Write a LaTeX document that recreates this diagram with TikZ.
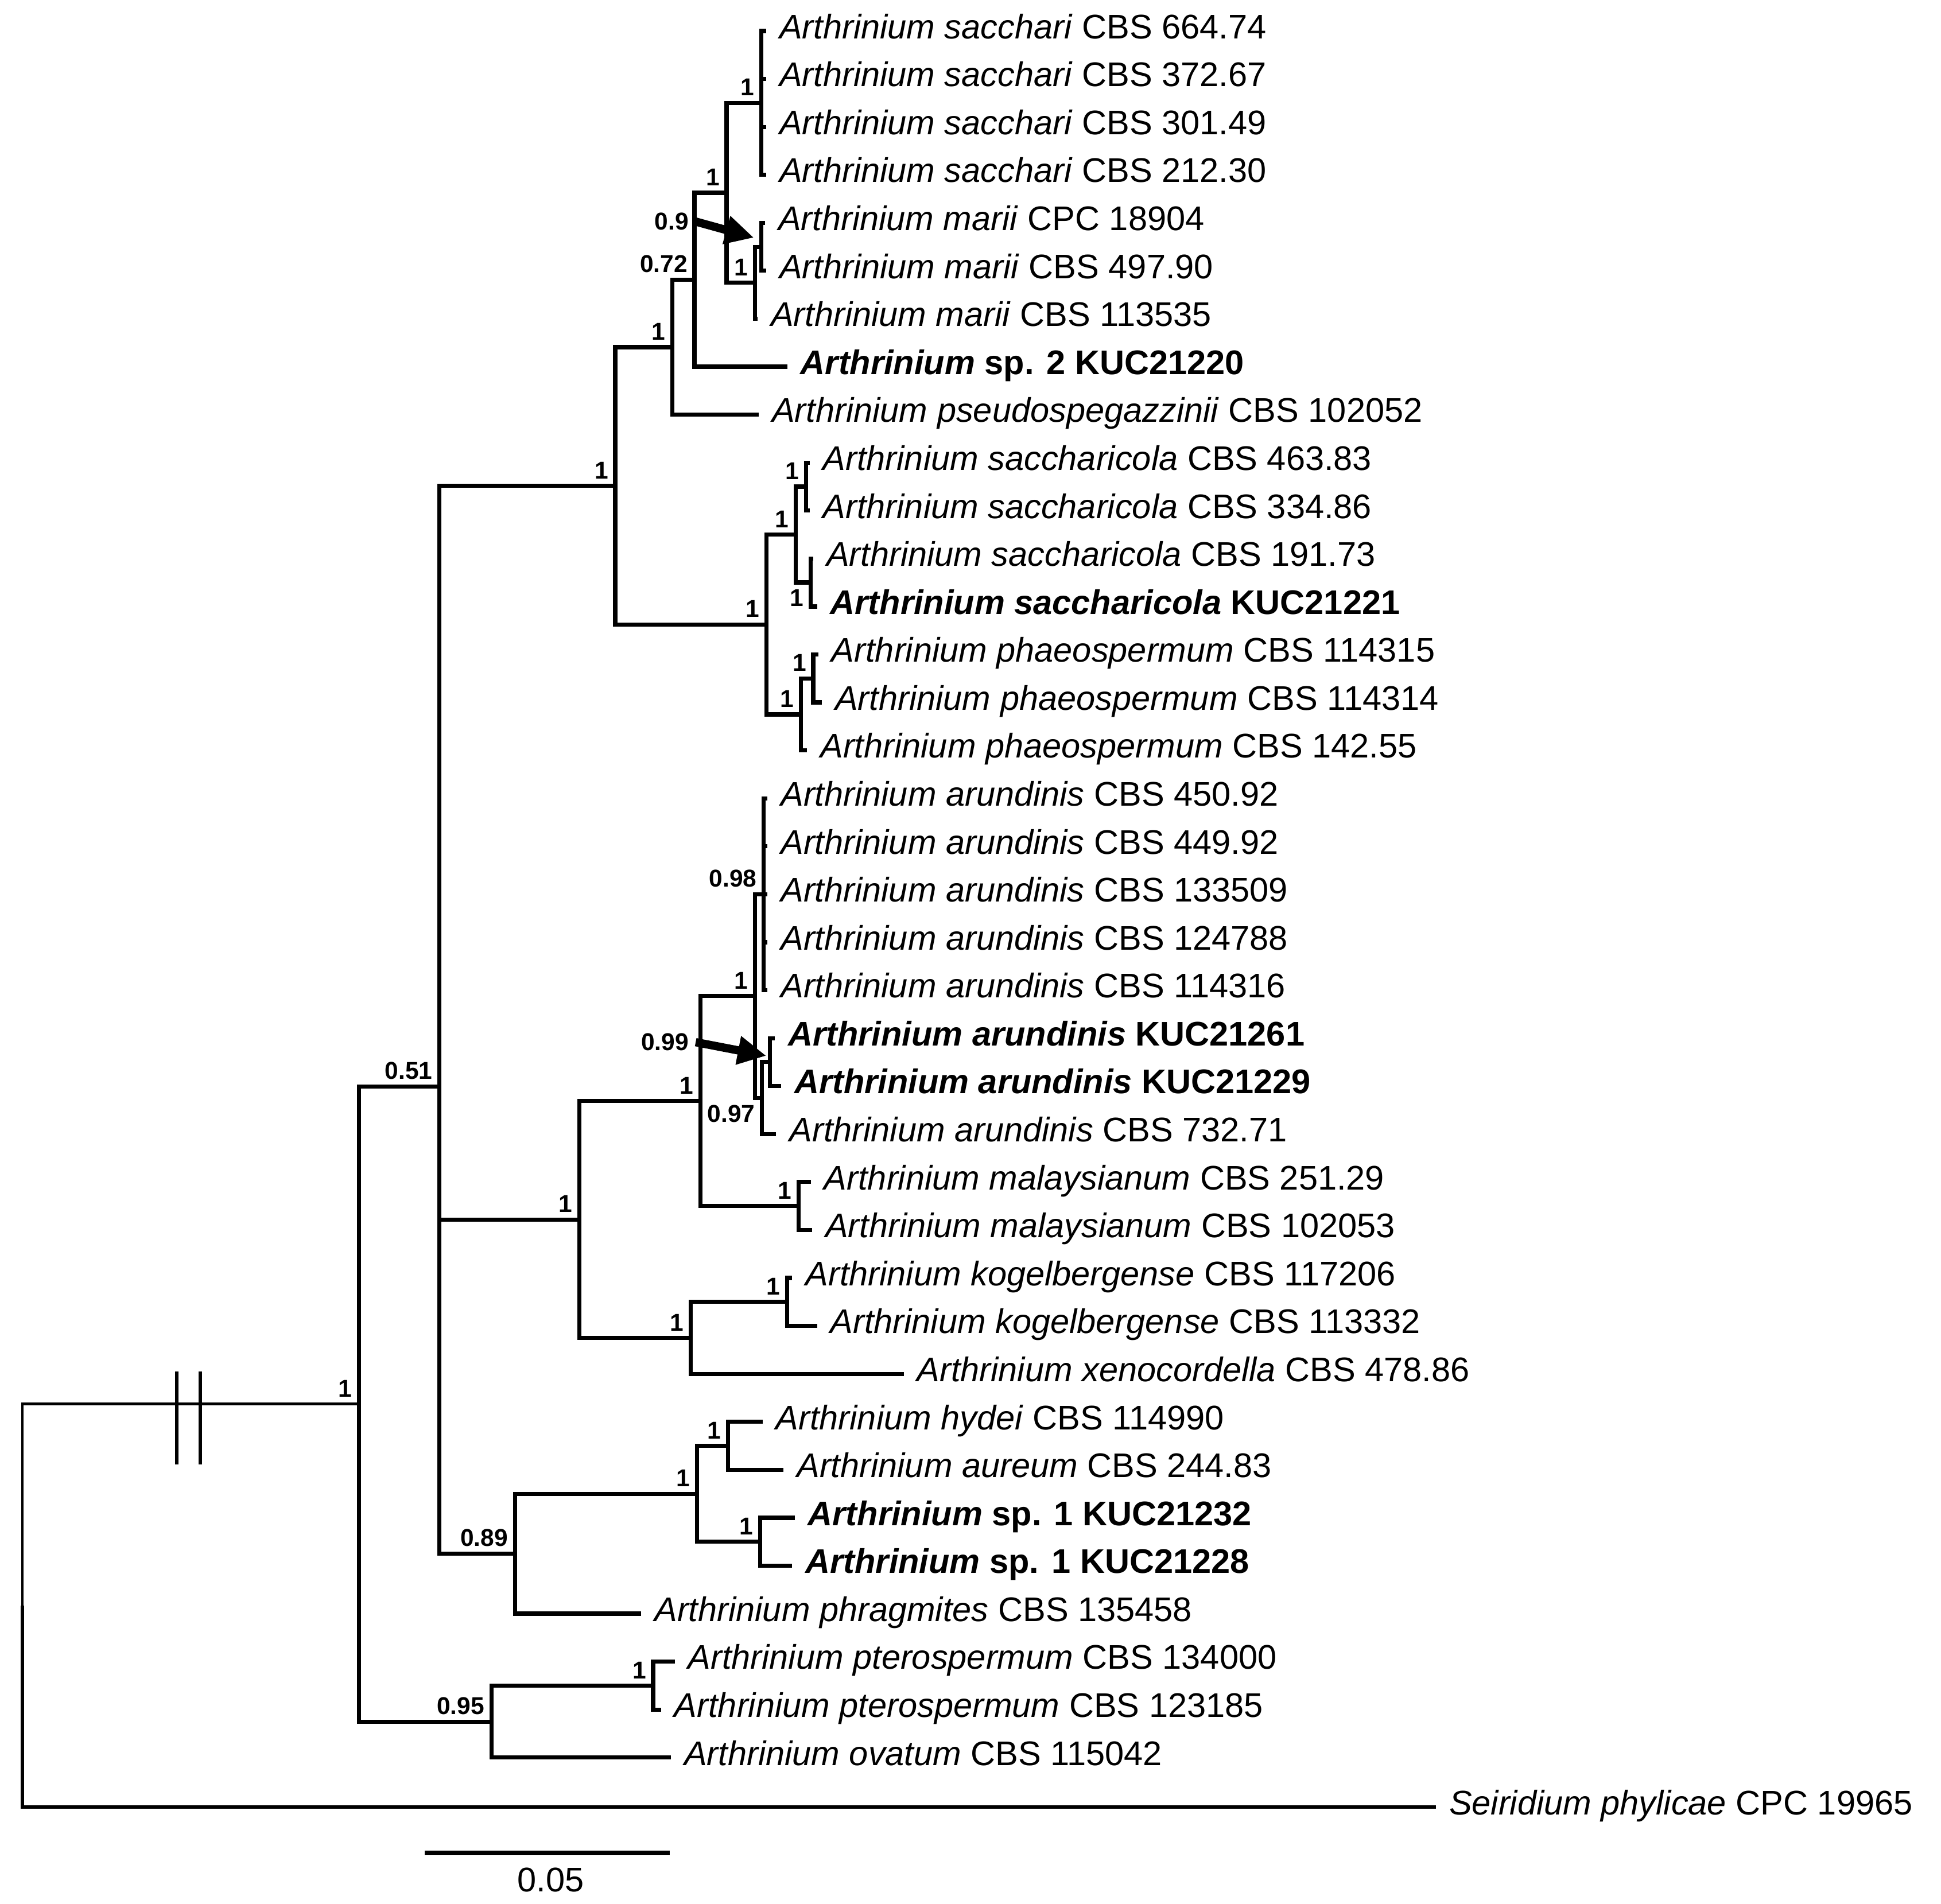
\documentclass[tikz,border=0pt]{standalone}
\usepackage{fontspec}
\setmainfont{Liberation Sans}
\usetikzlibrary{arrows.meta}
\newcommand{\arth}[1]{\textit{Arthrinium #1}}
\newcommand{\arthb}[1]{\textbf{\textit{Arthrinium #1}}}

\begin{document}
\begin{tikzpicture}[x=0.01cm, y=-0.01cm,
  br/.style={line width=0.95pt},
  leaf/.style={anchor=west, inner xsep=0.1cm, inner ysep=0pt, text height=5.5pt, text depth=2pt, font=\fontsize{7.85}{9}\selectfont},
  supp/.style={anchor=south east, inner sep=0.05cm, font=\fontsize{5.6}{6}\selectfont\bfseries},
  pointer/.style={line width=1.9pt, -{Triangle[length=2.3mm,width=2.2mm]}}]
\useasboundingbox (0,0) rectangle (1568,1538);

% internal nodes
\coordinate (root) at (18,1297);
\coordinate (ingr) at (290,1134.3);
\coordinate (core) at (355,877.7);
\coordinate (pter) at (397,1391);
\coordinate (top) at (497,392.5);
\coordinate (sacc) at (543,280.5);
\coordinate (mar) at (561,226);
\coordinate (marsac) at (587,155.8);
\coordinate (sacch) at (615,83.1);
\coordinate (marii) at (610,228.4);
\coordinate (marii2) at (615,199.4);
\coordinate (sphae) at (619,504.5);
\coordinate (scola) at (643,431.9);
\coordinate (scola1) at (651,393.1);
\coordinate (scola2) at (655,470.6);
\coordinate (phae) at (647,577.2);
\coordinate (phae1) at (657,548.1);
\coordinate (mid) at (468,985.3);
\coordinate (arma) at (566,889.6);
\coordinate (arun) at (610,804.8);
\coordinate (arun1) at (617,722.5);
\coordinate (arun2) at (615.5,887.2);
\coordinate (kuc) at (622,858.1);
\coordinate (malay) at (645,974.4);
\coordinate (kogx) at (558,1081);
\coordinate (kog) at (636,1051.9);
\coordinate (low) at (416,1255.3);
\coordinate (hasp) at (563,1206.9);
\coordinate (hyau) at (588,1168.1);
\coordinate (spone) at (614,1245.6);
\coordinate (ptero) at (527.6,1361.9);

% taxa
\node[leaf] (t1) at (619,25) {\arth{sacchari} CBS 664.74};
\node[leaf] (t2) at (619,63.75) {\arth{sacchari} CBS 372.67};
\node[leaf] (t3) at (619,102.5) {\arth{sacchari} CBS 301.49};
\node[leaf] (t4) at (619,141.25) {\arth{sacchari} CBS 212.30};
\node[leaf] (t5) at (618,180) {\arth{marii} CPC 18904};
\node[leaf] (t6) at (619,218.75) {\arth{marii} CBS 497.90};
\node[leaf] (t7) at (612,257.5) {\arth{marii} CBS 113535};
\node[leaf] (t8) at (636,296.25) {\textbf{\textit{Arthrinium} sp. 2 KUC21220}};
\node[leaf] (t9) at (613,335) {\arth{pseudospegazzinii} CBS 102052};
\node[leaf] (t10) at (654,373.75) {\arth{saccharicola} CBS 463.83};
\node[leaf] (t11) at (654,412.5) {\arth{saccharicola} CBS 334.86};
\node[leaf] (t12) at (657,451.25) {\arth{saccharicola} CBS 191.73};
\node[leaf] (t13) at (660,490) {\arthb{saccharicola} \textbf{KUC21221}};
\node[leaf] (t14) at (661,528.75) {\arth{phaeospermum} CBS 114315};
\node[leaf] (t15) at (664,567.5) {\arth{phaeospermum} CBS 114314};
\node[leaf] (t16) at (652,606.25) {\arth{phaeospermum} CBS 142.55};
\node[leaf] (t17) at (620,645) {\arth{arundinis} CBS 450.92};
\node[leaf] (t18) at (620,683.75) {\arth{arundinis} CBS 449.92};
\node[leaf] (t19) at (620,722.5) {\arth{arundinis} CBS 133509};
\node[leaf] (t20) at (620,761.25) {\arth{arundinis} CBS 124788};
\node[leaf] (t21) at (620,800) {\arth{arundinis} CBS 114316};
\node[leaf] (t22) at (626,838.75) {\arthb{arundinis} \textbf{KUC21261}};
\node[leaf] (t23) at (631,877.5) {\arthb{arundinis} \textbf{KUC21229}};
\node[leaf] (t24) at (627,916.25) {\arth{arundinis} CBS 732.71};
\node[leaf] (t25) at (655,955) {\arth{malaysianum} CBS 251.29};
\node[leaf] (t26) at (656,993.75) {\arth{malaysianum} CBS 102053};
\node[leaf] (t27) at (640,1032.5) {\arth{kogelbergense} CBS 117206};
\node[leaf] (t28) at (660,1071.25) {\arth{kogelbergense} CBS 113332};
\node[leaf] (t29) at (730,1110) {\arth{xenocordella} CBS 478.86};
\node[leaf] (t30) at (616,1148.75) {\arth{hydei} CBS 114990};
\node[leaf] (t31) at (633,1187.5) {\arth{aureum} CBS 244.83};
\node[leaf] (t32) at (642,1226.25) {\textbf{\textit{Arthrinium} sp. 1 KUC21232}};
\node[leaf] (t33) at (640,1265) {\textbf{\textit{Arthrinium} sp. 1 KUC21228}};
\node[leaf] (t34) at (518,1303.75) {\arth{phragmites} CBS 135458};
\node[leaf] (t35) at (545,1342.5) {\arth{pterospermum} CBS 134000};
\node[leaf] (t36) at (534,1381.25) {\arth{pterospermum} CBS 123185};
\node[leaf] (t37) at (542,1420) {\arth{ovatum} CBS 115042};
\node[leaf] (t38) at (1160,1460) {\textit{Seiridium phylicae} CPC 19965};

% branches
\draw[line width=0.6pt] (root) |- (ingr);
\draw[line width=0.8pt] (root) |- (t38);
\draw[line width=0.8pt] (143,1108) -- (143,1183) (162,1108) -- (162,1183);
\draw[br] (ingr) |- (core) (ingr) |- (pter);
\draw[br] (core) |- (top) (core) |- (mid) (core) |- (low);
\draw[br] (top) |- (sacc) (top) |- (sphae);
\draw[br] (sacc) |- (mar) (sacc) |- (t9);
\draw[br] (mar) |- (marsac) (mar) |- (t8);
\draw[br] (marsac) |- (sacch) (marsac) |- (marii);
\draw[br] (sacch) |- (t1) (sacch) |- (t2) (sacch) |- (t3) (sacch) |- (t4);
\draw[br] (marii) |- (marii2) (marii) |- (t7);
\draw[br] (marii2) |- (t5) (marii2) |- (t6);
\draw[br] (sphae) |- (scola) (sphae) |- (phae);
\draw[br] (scola) |- (scola1) (scola) |- (scola2);
\draw[br] (scola1) |- (t10) (scola1) |- (t11);
\draw[br] (scola2) |- (t12) (scola2) |- (t13);
\draw[br] (phae) |- (phae1) (phae) |- (t16);
\draw[br] (phae1) |- (t14) (phae1) |- (t15);
\draw[br] (mid) |- (arma) (mid) |- (kogx);
\draw[br] (arma) |- (arun) (arma) |- (malay);
\draw[br] (arun) |- (arun1) (arun) |- (arun2);
\draw[br] (arun1) |- (t17) (arun1) |- (t18) (arun1) |- (t19) (arun1) |- (t20) (arun1) |- (t21);
\draw[br] (arun2) |- (kuc) (arun2) |- (t24);
\draw[br] (kuc) |- (t22) (kuc) |- (t23);
\draw[br] (malay) |- (t25) (malay) |- (t26);
\draw[br] (kogx) |- (kog) (kogx) |- (t29);
\draw[br] (kog) |- (t27) (kog) |- (t28);
\draw[br] (low) |- (hasp) (low) |- (t34);
\draw[br] (hasp) |- (hyau) (hasp) |- (spone);
\draw[br] (hyau) |- (t30) (hyau) |- (t31);
\draw[br] (spone) |- (t32) (spone) |- (t33);
\draw[br] (pter) |- (ptero) (pter) |- (t37);
\draw[br] (ptero) |- (t35) (ptero) |- (t36);

% support values
\node[supp] (p1) at (ingr) {1};
\node[supp] (p2) at (core) {0.51};
\node[supp] (p3) at (pter) {0.95};
\node[supp] (p4) at (top) {1};
\node[supp] (p5) at (sacc) {1};
\node[supp] (p6) at (mar) {0.72};
\node[supp] (p7) at (marsac) {1};
\node[supp] (p8) at (sacch) {1};
\node[supp] (p9) at (marii) {1};
\node[supp, anchor=east] (p10) at (562,179) {0.9};
\node[supp] (p11) at (sphae) {1};
\node[supp] (p12) at (scola) {1};
\node[supp] (p13) at (scola1) {1};
\node[supp, anchor=north east] (p14) at (scola2) {1};
\node[supp] (p15) at (phae) {1};
\node[supp] (p16) at (phae1) {1};
\node[supp] (p17) at (mid) {1};
\node[supp] (p18) at (arma) {1};
\node[supp] (p19) at (arun) {1};
\node[supp] (p20) at (arun1) {0.98};
\node[supp, anchor=north east] (p21) at (arun2) {0.97};
\node[supp, anchor=east] (p22) at (562,842) {0.99};
\node[supp] (p23) at (malay) {1};
\node[supp] (p24) at (kogx) {1};
\node[supp] (p25) at (kog) {1};
\node[supp] (p26) at (low) {0.89};
\node[supp] (p27) at (hasp) {1};
\node[supp] (p28) at (hyau) {1};
\node[supp] (p29) at (spone) {1};
\node[supp] (p30) at (ptero) {1};

\coordinate (tip1) at (609,192);
\coordinate (tip2) at (619,853);
\draw[pointer] (p10.east) -- (tip1);
\draw[pointer] (p22.east) -- (tip2);

% scale bar
\coordinate (sbl) at (343,1497);
\coordinate (sbr) at (541,1497);
\draw[line width=1.1pt] (sbl) -- (sbr);
\node[font=\fontsize{7.85}{9}\selectfont] (sblab) at (445,1519) {0.05};

\end{tikzpicture}
\end{document}
